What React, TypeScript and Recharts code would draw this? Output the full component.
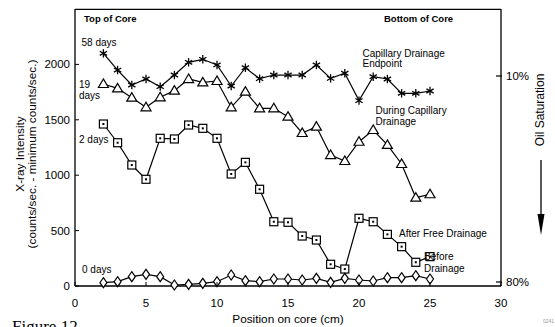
import React from "react";
import { ComposedChart, Line, XAxis, YAxis } from "recharts";

const positions = [2, 3, 4, 5, 6, 7, 8, 9, 10, 11, 12, 13, 14, 15, 16, 17, 18, 19, 20, 21, 22, 23, 24, 25];
const days58 = [2100, 1949, 1814, 1868, 1799, 1904, 2019, 2046, 1995, 1805, 1970, 1871, 1904, 1904, 1904, 1995, 1874, 1920, 1673, 1889, 1868, 1739, 1739, 1760];
const days19 = [1823, 1784, 1700, 1613, 1703, 1763, 1868, 1838, 1850, 1613, 1754, 1604, 1604, 1528, 1381, 1438, 1182, 1128, 1302, 1408, 1273, 1101, 797, 828];
const days2 = [1462, 1293, 1092, 963, 1333, 1327, 1453, 1423, 1333, 1011, 1116, 873, 580, 575, 451, 415, 196, 153, 611, 580, 466, 355, 214, 265];
const days0 = [30, 39, 84, 105, 84, 9, 15, 24, 39, 99, 48, 39, 63, 63, 54, 69, 33, 69, 54, 45, 75, 75, 93, 63];

const xTicks = [0, 5, 10, 15, 20, 25, 30];
const yTicks = [0, 500, 1000, 1500, 2000];
const satTicks = [10, 80];

const data = positions.map((p, i) => ({
  pos: p,
  d58: days58[i],
  d19: days19[i],
  d2: days2[i],
  d0: days0[i],
}));

const FONT = "'Liberation Sans', Arial, Helvetica, sans-serif";
const SW = 1.2;

const Star = (props: any) => {
  const { cx, cy, index } = props;
  if (cx == null || cy == null) return <g key={"s" + index} />;
  const r = 4.2;
  const dx = r * 0.866;
  const dy = r * 0.5;
  return (
    <g key={"s" + index} stroke="#000" strokeWidth={1.3}>
      <line x1={cx} y1={cy - r} x2={cx} y2={cy + r} />
      <line x1={cx - dx} y1={cy - dy} x2={cx + dx} y2={cy + dy} />
      <line x1={cx - dx} y1={cy + dy} x2={cx + dx} y2={cy - dy} />
    </g>
  );
};

const Tri = (props: any) => {
  const { cx, cy, index } = props;
  if (cx == null || cy == null) return <g key={"t" + index} />;
  return (
    <polygon
      key={"t" + index}
      points={`${cx},${cy - 5} ${cx - 5},${cy + 3.5} ${cx + 5},${cy + 3.5}`}
      fill="#fff"
      stroke="#000"
      strokeWidth={SW}
    />
  );
};

const Sq = (props: any) => {
  const { cx, cy, index } = props;
  if (cx == null || cy == null) return <g key={"q" + index} />;
  return (
    <g key={"q" + index}>
      <rect x={cx - 4} y={cy - 4} width={8} height={8} fill="#fff" stroke="#000" strokeWidth={SW} />
      <rect x={cx - 1} y={cy - 1} width={2} height={2} fill="#000" />
    </g>
  );
};

const Dia = (props: any) => {
  const { cx, cy, index } = props;
  if (cx == null || cy == null) return <g key={"d" + index} />;
  return (
    <polygon
      key={"d" + index}
      points={`${cx},${cy - 5} ${cx + 3.5},${cy} ${cx},${cy + 5} ${cx - 3.5},${cy}`}
      fill="#fff"
      stroke="#000"
      strokeWidth={SW}
    />
  );
};

const XTick = (props: any) => {
  const { x, y, payload } = props;
  return (
    <g>
      <line x1={x} y1={y} x2={x} y2={y - 4} stroke="#000" strokeWidth={1} />
      <text x={x} y={y + 21} textAnchor="middle" fontSize={11.5} fontFamily={FONT} fill="#000">
        {payload.value}
      </text>
    </g>
  );
};

const YTick = (props: any) => {
  const { x, y, payload } = props;
  return (
    <g>
      <line x1={x} y1={y} x2={x + 4} y2={y} stroke="#000" strokeWidth={1} />
      <text x={x - 5} y={y + 4} textAnchor="end" fontSize={11.5} fontFamily={FONT} fill="#000">
        {payload.value}
      </text>
    </g>
  );
};

const RTick = (props: any) => {
  const { x, y, payload } = props;
  return (
    <g>
      <line x1={x - 5} y1={y} x2={x + 1} y2={y} stroke="#000" strokeWidth={1.2} />
      <text x={x + 5} y={y + 4} textAnchor="start" fontSize={11.5} fontFamily={FONT} fill="#000">
        {payload.value + "%"}
      </text>
    </g>
  );
};

const T = ({ x, y, children, size = 10, weight = "normal", anchor = "start" }: any) => (
  <text x={x} y={y} fontSize={size} fontWeight={weight} fontFamily={FONT} fill="#000" textAnchor={anchor}>
    {children}
  </text>
);

export default function App() {
  return (
    <div style={{ position: "absolute", left: 0, top: 0, width: 555, height: 327, background: "#fff", overflow: "hidden" }}>
      <ComposedChart
        width={555}
        height={327}
        data={data}
        margin={{ top: 9, right: 0, bottom: 0, left: 0 }}
      >
        <XAxis
          dataKey="pos"
          type="number"
          domain={[0, 30]}
          ticks={xTicks}
          height={41}
          tickSize={0}
          tickMargin={0}
          tickLine={false}
          axisLine={{ stroke: "#000", strokeWidth: 1.3 }}
          tick={<XTick />}
          interval={0}
        />
        <YAxis
          yAxisId="left"
          type="number"
          domain={[0, 2500]}
          ticks={yTicks}
          width={75}
          tickSize={0}
          tickMargin={0}
          tickLine={false}
          axisLine={{ stroke: "#000", strokeWidth: 1.3 }}
          tick={<YTick />}
          interval={0}
        />
        <YAxis
          yAxisId="right"
          orientation="right"
          type="number"
          domain={[-12.77, 81.36]}
          allowDataOverflow
          reversed
          ticks={satTicks}
          width={54}
          tickSize={0}
          tickMargin={0}
          tickLine={false}
          axisLine={{ stroke: "#000", strokeWidth: 1.3 }}
          tick={<RTick />}
          interval={0}
        />
        <Line yAxisId="left" dataKey="d58" stroke="#000" strokeWidth={SW} dot={Star} activeDot={false} isAnimationActive={false} />
        <Line yAxisId="left" dataKey="d19" stroke="#000" strokeWidth={SW} dot={Tri} activeDot={false} isAnimationActive={false} />
        <Line yAxisId="left" dataKey="d2" stroke="#000" strokeWidth={SW} dot={Sq} activeDot={false} isAnimationActive={false} />
        <Line yAxisId="left" dataKey="d0" stroke="#000" strokeWidth={SW} dot={Dia} activeDot={false} isAnimationActive={false} />
      </ComposedChart>
      <svg width={555} height={327} style={{ position: "absolute", left: 0, top: 0, pointerEvents: "none" }}>
        <line x1={75} y1={9.3} x2={501} y2={9.3} stroke="#000" strokeWidth={1.3} />
        <T x={84} y={22} size={9.5} weight="bold">Top of Core</T>
        <T x={384} y={22} size={9.5} weight="bold">Bottom of Core</T>
        <T x={81.5} y={46}>58 days</T>
        <T x={79} y={87.5}>19</T>
        <T x={79} y={99}>days</T>
        <T x={79} y={143}>2 days</T>
        <T x={82} y={273}>0 days</T>
        <T x={362.5} y={56.5}>Capillary Drainage</T>
        <T x={362.5} y={67}>Endpoint</T>
        <T x={375.5} y={114}>During Capillary</T>
        <T x={375.5} y={124.5}>Drainage</T>
        <T x={399} y={236.5}>After Free Drainage</T>
        <T x={424} y={260}>Before</T>
        <T x={424} y={271.5}>Drainage</T>
        <text x={288} y={322.5} textAnchor="middle" fontSize={11.8} fontFamily={FONT} fill="#000">
          Position on core (cm)
        </text>
        <text transform="translate(24,154) rotate(-90)" textAnchor="middle" fontSize={11.8} fontFamily={FONT} fill="#000">
          X-ray Intensity
        </text>
        <text transform="translate(36,154) rotate(-90)" textAnchor="middle" fontSize={11.8} fontFamily={FONT} fill="#000">
          (counts/sec. - minimum counts/sec.)
        </text>
        <text transform="translate(544,110) rotate(-90)" textAnchor="middle" fontSize={12} fontFamily={FONT} fill="#000">
          Oil Saturation
        </text>
        <line x1={541} y1={160} x2={541} y2={216} stroke="#000" strokeWidth={1.3} />
        <polygon points="537.5,214 544.5,214 541,235" fill="#000" />
        <text x={12} y={332} fontSize={17} fontFamily="'Liberation Serif', 'Times New Roman', serif" fill="#000">
          Figure 12
        </text>
        <text x={543} y={323} fontSize={5} fontFamily={FONT} fill="#999">
          0241
        </text>
      </svg>
    </div>
  );
}
